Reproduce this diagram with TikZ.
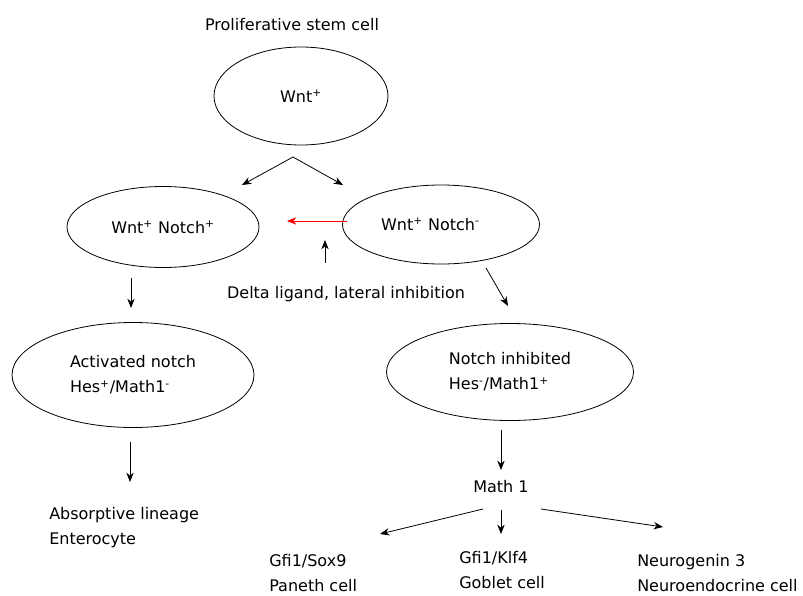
\documentclass[tikz,border=0pt]{standalone}
\usepackage{fontspec}
\setmainfont{DejaVu Sans}
\usetikzlibrary{shapes.geometric,arrows.meta}
\tikzset{
  cell/.style={draw,ellipse,inner sep=0pt,align=left,line width=0.6pt},
  lbl/.style={align=left,inner sep=0pt},
  arr/.style={-{Stealth[length=7pt,width=5.5pt]},line width=0.6pt}
}
\begin{document}
\begin{tikzpicture}[x=0.75pt,y=-0.75pt,font=\fontsize{12}{18.75}\selectfont]
  \useasboundingbox (0,0) rectangle (803,596);
  % cells
  \node[lbl] (title) at (292,25) {Proliferative stem cell};
  \node[cell,minimum width=130.5pt,minimum height=73.5pt] (stem) at (301,96) {Wnt\textsuperscript{+}};
  \node[cell,minimum width=144pt,minimum height=60.75pt] (notchp) at (163,227) {Wnt\textsuperscript{+} Notch\textsuperscript{+}};
  \node[cell,minimum width=147.75pt,minimum height=59.25pt] (notchm) at (441,224.5) {Wnt\textsuperscript{+} Notch\textsuperscript{-}\hspace{16pt}};
  \node[lbl] (delta) at (346,294) {Delta ligand, lateral inhibition};
  \node[cell,minimum width=181.5pt,minimum height=78.75pt] (actn) at (133,375) {Activated notch\\Hes\textsuperscript{+}/Math1\textsuperscript{-}};
  \node[cell,minimum width=185.25pt,minimum height=72.75pt] (inhn) at (510,372) {Notch inhibited\\Hes\textsuperscript{-}/Math1\textsuperscript{+}};
  \node[lbl] (math1) at (501,487) {Math 1};
  % outcomes
  \node[lbl,anchor=west] (absorp) at (49,527.5) {Absorptive lineage\\Enterocyte};
  \node[lbl,anchor=west] (paneth) at (269,573.5) {Gfi1/Sox9\\Paneth cell};
  \node[lbl,anchor=west] (goblet) at (459,570.5) {Gfi1/Klf4\\Goblet cell};
  \node[lbl,anchor=west] (neuro) at (637,573) {Neurogenin 3\\Neuroendocrine cell};
  % arrows
  \draw[arr] (stem.center) ++(-8,61) -- ++(-51,28);
  \draw[arr] (stem.center) ++(-8,61) -- ++(50,28);
  \draw[arr,red] (notchm.center) ++(-94,-3.5) -- ++(-60,0);
  \draw[arr] (delta.center) ++(-21,-31) -- ++(0,-23);
  \draw[arr] (actn.center) ++(-2,-97) -- ++(0,30);
  \draw[arr] (notchm.center) ++(45,43.5) -- ++(22,38);
  \draw[arr] (actn.center) ++(-3,67) -- ++(0,40);
  \draw[arr] (math1.center) ++(0,-57) -- ++(0,40);
  \draw[arr] (math1.center) ++(-18,22) -- ++(-103,25);
  \draw[arr] (math1.center) ++(0,23) -- ++(0,24);
  \draw[arr] (math1.center) ++(40,22) -- ++(122,18);
\end{tikzpicture}
\end{document}
